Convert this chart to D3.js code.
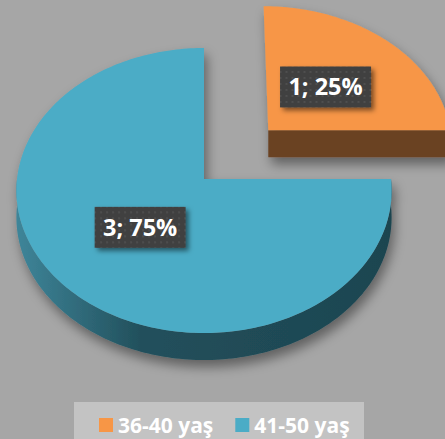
<!DOCTYPE html>
<html>
<head>
<meta charset="utf-8">
<script src="https://cdn.jsdelivr.net/npm/d3@7"></script>
<style>
  html, body { margin: 0; padding: 0; background: #a6a6a6; }
  svg { display: block; }
  text { font-family: "Open Sans", "DejaVu Sans", sans-serif; font-weight: bold; fill: #fff; }
</style>
</head>
<body>
<div id="chart"></div>
<script>
'use strict';

var categories = ['36-40 yaş', '41-50 yaş'];
var counts = [1, 3];
var colors = ['#f79646', '#4bacc6'];
var sideColors = ['#6b4220', '#1f4853'];
var explode = [0.5, 0];

var W = 445, H = 439;
// projected disk: centre, radii, perspective and thickness
var cx = 204, cy = 179, A = 187, B = 141.6, K = 0.0807, depth = 27;

var svg = d3.select('#chart').append('svg')
    .attr('width', W)
    .attr('height', H);

var defs = svg.append('defs');

var sh = defs.append('filter').attr('id', 'shadow')
    .attr('x', '-20%').attr('y', '-20%').attr('width', '140%').attr('height', '140%');
sh.append('feDropShadow')
    .attr('dx', 3).attr('dy', 7).attr('stdDeviation', 6)
    .attr('flood-color', '#000').attr('flood-opacity', 0.42);

var lsh = defs.append('filter').attr('id', 'lblshadow')
    .attr('x', '-30%').attr('y', '-30%').attr('width', '160%').attr('height', '160%');
lsh.append('feDropShadow')
    .attr('dx', 3).attr('dy', 3).attr('stdDeviation', 2.5)
    .attr('flood-color', '#000').attr('flood-opacity', 0.5);

var pat = defs.append('pattern').attr('id', 'dots')
    .attr('patternUnits', 'userSpaceOnUse')
    .attr('width', 6).attr('height', 6);
pat.append('rect').attr('width', 6).attr('height', 6).attr('fill', '#404040');
pat.append('circle').attr('cx', 3).attr('cy', 3).attr('r', 0.9).attr('fill', '#555');

var sideGrad = defs.append('linearGradient').attr('id', 'blueSide')
    .attr('gradientUnits', 'userSpaceOnUse')
    .attr('x1', cx - A).attr('x2', cx + A).attr('y1', 0).attr('y2', 0);
sideGrad.append('stop').attr('offset', 0).attr('stop-color', '#3e8599');
sideGrad.append('stop').attr('offset', 0.33).attr('stop-color', '#22505c');
sideGrad.append('stop').attr('offset', 1).attr('stop-color', '#1d4550');

var pie = d3.pie().sort(null).value(function (d) { return d; });
var arcs = pie(counts);
var total = d3.sum(counts);

// angle is clockwise from 12 o'clock, like d3.pie
function proj(a, r, d, dz) {
    var mid = (d.startAngle + d.endAngle) / 2;
    var e = explode[d.index];
    var u = r * Math.sin(a) + e * Math.sin(mid);
    var v = -r * Math.cos(a) - e * Math.cos(mid);
    var s = 1 - K * v;
    return [cx + A * u / s, cy + B * v / s + (dz || 0)];
}

function arcPoints(d, a0, a1, dz) {
    var n = Math.max(2, Math.ceil(Math.abs(a1 - a0) / 0.02));
    return d3.range(n + 1).map(function (i) {
        return proj(a0 + (a1 - a0) * i / n, 1, d, dz);
    });
}

var line = d3.line();

var slices = svg.selectAll('g.slice')
    .data(arcs)
    .enter()
    .append('g')
    .attr('class', 'slice')
    .attr('filter', 'url(#shadow)');

slices.each(function (d) {
    var g = d3.select(this);
    var i = d.index;

    // outer wall: visible only where the rim faces the viewer (PI/2 .. 3PI/2)
    var w0 = Math.max(d.startAngle, Math.PI / 2);
    var w1 = Math.min(d.endAngle, 3 * Math.PI / 2);
    if (w1 > w0) {
        var top = arcPoints(d, w0, w1, 0);
        var bot = arcPoints(d, w1, w0, depth);
        g.append('path')
            .attr('d', line(top.concat(bot)) + 'Z')
            .attr('fill', i === 1 ? 'url(#blueSide)' : sideColors[i]);
    }

    // radial face along the end edge at 3 o'clock
    if (Math.abs(d.endAngle - Math.PI / 2) < 1e-6) {
        var c0 = proj(0, 0, d, 0), c1 = proj(d.endAngle, 1, d, 0);
        var c2 = proj(d.endAngle, 1, d, depth), c3 = proj(0, 0, d, depth);
        g.append('path')
            .attr('d', line([c0, c1, c2, c3]) + 'Z')
            .attr('fill', sideColors[i]);
    }

    // top face
    var pts = [proj(0, 0, d, 0)].concat(arcPoints(d, d.startAngle, d.endAngle, 0));
    g.append('path')
        .attr('d', line(pts) + 'Z')
        .attr('fill', colors[i]);
});

// data labels
var labels = svg.selectAll('g.lbl')
    .data(arcs)
    .enter()
    .append('g')
    .attr('class', 'lbl')
    .attr('transform', function (d) {
        var mid = (d.startAngle + d.endAngle) / 2;
        var p = proj(mid, 0.47, d, 0);
        return 'translate(' + p[0] + ',' + p[1] + ')';
    });

labels.append('rect')
    .attr('x', -45.5).attr('y', -20.5)
    .attr('width', 91).attr('height', 41)
    .attr('fill', 'url(#dots)')
    .attr('filter', 'url(#lblshadow)');

labels.append('text')
    .attr('text-anchor', 'middle')
    .attr('y', 8.5)
    .style('font-size', '23.5px')
    .text(function (d) {
        return d.data + '; ' + Math.round(d.data / total * 100) + '%';
    });

// legend
var legend = svg.append('g');
legend.append('rect')
    .attr('x', 74).attr('y', 402)
    .attr('width', 290).attr('height', 40)
    .attr('fill', '#c3c3c3');

var lx = 99;
categories.forEach(function (c, i) {
    legend.append('rect')
        .attr('x', lx).attr('y', 418)
        .attr('width', 14).attr('height', 14)
        .attr('fill', colors[i]);
    var t = legend.append('text')
        .attr('x', lx + 19).attr('y', 433)
        .style('font-size', '21px')
        .text(c);
    lx += 19 + t.node().getComputedTextLength() + 22;
});
</script>
</body>
</html>
